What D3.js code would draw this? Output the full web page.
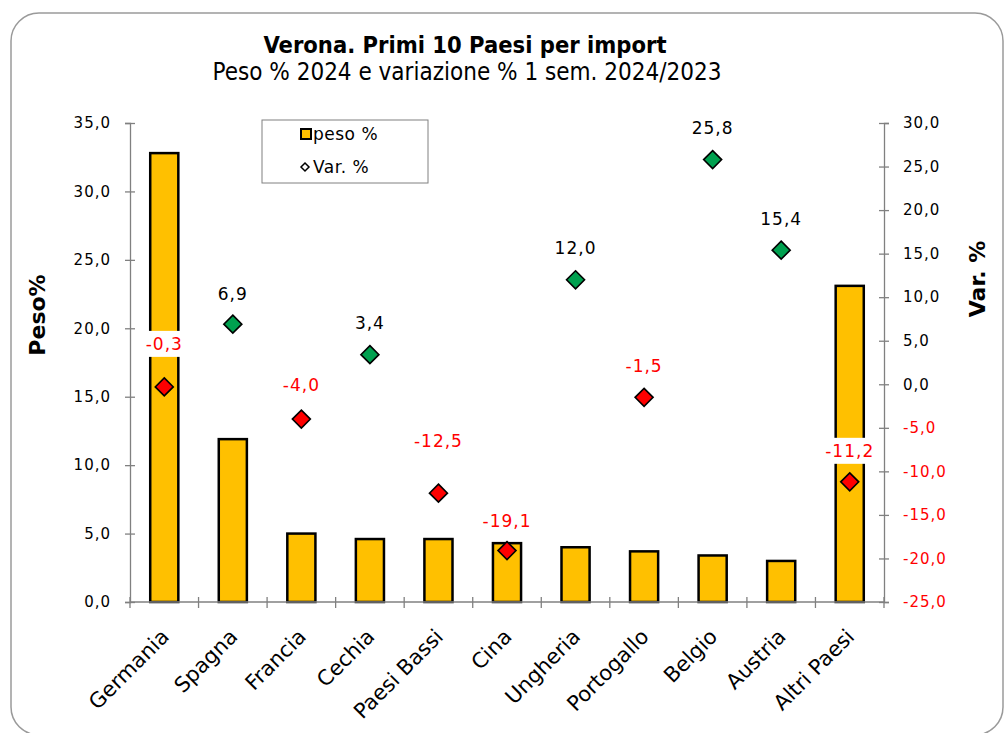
<!DOCTYPE html>
<html>
<head>
<meta charset="utf-8">
<script src="https://cdn.jsdelivr.net/npm/d3@7"></script>
<style>
  body { margin: 0; background: #fff; }
  text { font-family: "DejaVu Sans", Verdana, sans-serif; }
</style>
</head>
<body>
<div id="chart"></div>
<script>
// categories and values
var paesi = ["Germania", "Spagna", "Francia", "Cechia", "Paesi Bassi", "Cina",
             "Ungheria", "Portogallo", "Belgio", "Austria", "Altri Paesi"];
var peso = [32.8, 11.9, 5.0, 4.6, 4.6, 4.3, 4.0, 3.7, 3.4, 3.0, 23.1];
var variazione = [-0.3, 6.9, -4.0, 3.4, -12.5, -19.1, 12.0, -1.5, 25.8, 15.4, -11.2];
var ticksPeso = [0, 5, 10, 15, 20, 25, 30, 35];
var ticksVar = [-25, -20, -15, -10, -5, 0, 5, 10, 15, 20, 25, 30];

var width = 1007, height = 733;
var margin = {top: 123, right: 123, bottom: 131, left: 130};

var fmt = function(d) { return d.toFixed(1).replace(".", ","); };

var svg = d3.select("#chart").append("svg")
    .attr("width", width)
    .attr("height", height);

// outer frame
svg.append("rect")
    .attr("x", 11).attr("y", 13)
    .attr("width", 992).attr("height", 722)
    .attr("rx", 28).attr("ry", 28)
    .attr("fill", "#fff")
    .attr("stroke", "#9a9a9a")
    .attr("stroke-width", 1.5);

// titles
svg.append("text")
    .attr("x", 465).attr("y", 53)
    .attr("text-anchor", "middle")
    .style("font-family", "'DejaVu Sans Condensed', 'DejaVu Sans', sans-serif")
    .style("font-weight", "bold")
    .style("font-size", "23.5px")
    .text("Verona. Primi 10 Paesi per import");

svg.append("text")
    .attr("x", 467).attr("y", 80)
    .attr("text-anchor", "middle")
    .style("font-family", "'DejaVu Sans Condensed', 'DejaVu Sans', sans-serif")
    .style("font-size", "24px")
    .text("Peso % 2024 e variazione % 1 sem. 2024/2023");

// scales
var x = d3.scaleBand().domain(paesi).range([margin.left, width - margin.right]);
var yL = d3.scaleLinear().domain([0, 35]).range([height - margin.bottom, margin.top]);
var yR = d3.scaleLinear().domain([-25, 30]).range([height - margin.bottom, margin.top]);

// bars
var barW = x.bandwidth() * 0.41;
svg.append("g").selectAll("rect")
    .data(peso)
    .enter().append("rect")
    .attr("x", function(d, i) { return x(paesi[i]) + (x.bandwidth() - barW) / 2; })
    .attr("y", function(d) { return yL(d); })
    .attr("width", barW)
    .attr("height", function(d) { return yL(0) - yL(d); })
    .attr("fill", "#ffc000")
    .attr("stroke", "#000")
    .attr("stroke-width", 2.5);

// left axis
var axL = svg.append("g")
    .attr("transform", "translate(" + margin.left + ",0)")
    .call(d3.axisLeft(yL).tickValues(ticksPeso).tickFormat(fmt).tickSize(5).tickPadding(14));
// right axis
var axR = svg.append("g")
    .attr("transform", "translate(" + (width - margin.right) + ",0)")
    .call(d3.axisRight(yR).tickValues(ticksVar).tickFormat(fmt).tickSize(5).tickPadding(14));
// bottom axis (category separators)
var sep = paesi.map(function(p) { return x(p); }).concat([width - margin.right]);
var axB = svg.append("g");
axB.append("line")
    .attr("x1", margin.left).attr("x2", width - margin.right)
    .attr("y1", yL(0)).attr("y2", yL(0));
axB.selectAll("line.sep").data(sep).enter().append("line")
    .attr("class", "sep")
    .attr("x1", function(d) { return d; }).attr("x2", function(d) { return d; })
    .attr("y1", yL(0) - 5).attr("y2", yL(0) + 6);
axB.selectAll("line").attr("stroke", "#808080").attr("stroke-width", 1.3);

[axL, axR].forEach(function(ax) {
    ax.select(".domain").attr("stroke", "#808080").attr("stroke-width", 1.3);
    ax.selectAll(".tick line").attr("stroke", "#808080").attr("stroke-width", 1.3);
    ax.selectAll("text")
        .style("font-size", "15px")
        .style("letter-spacing", "1px")
        .attr("fill", "#000");
});
axL.selectAll(".tick line").attr("x1", 5);
axR.selectAll(".tick line").attr("x1", -5);
axR.selectAll(".tick text").attr("fill", function(d) { return d < 0 ? "#ff0000" : "#000"; });

// category labels
svg.append("g").selectAll("text")
    .data(paesi)
    .enter().append("text")
    .attr("transform", function(d) {
        return "translate(" + (x(d) + x.bandwidth() / 2 + 6) + "," + (yL(0) + 36) + ") rotate(-45)";
    })
    .attr("text-anchor", "end")
    .style("font-size", "21px")
    .text(function(d) { return d; });

// axis titles
svg.append("text")
    .attr("transform", "translate(45," + 315 + ") rotate(-90)")
    .attr("text-anchor", "middle")
    .style("font-weight", "bold")
    .style("font-size", "22px")
    .text("Peso%");

svg.append("text")
    .attr("transform", "translate(985," + 279 + ") rotate(-90)")
    .attr("text-anchor", "middle")
    .style("font-weight", "bold")
    .style("font-size", "22px")
    .text("Var. %");

// diamonds and their labels (label distance above each marker, px)
var labelDy = [43, 30, 34, 32, 52, 30, 32, 31, 32, 31, 31];

var pts = svg.append("g").selectAll("g")
    .data(variazione)
    .enter().append("g")
    .attr("transform", function(d, i) {
        return "translate(" + (x(paesi[i]) + x.bandwidth() / 2) + "," + yR(d) + ")";
    });

pts.each(function(d, i) {
    var g = d3.select(this);
    var lbl = g.append("text")
        .attr("y", -labelDy[i] + 6)
        .attr("text-anchor", "middle")
        .style("font-size", "17px")
        .style("letter-spacing", "1px")
        .attr("fill", d < 0 ? "#ff0000" : "#000")
        .text(fmt(d));
    var bb = lbl.node().getBBox();
    g.insert("rect", "text")
        .attr("x", bb.x - 3).attr("y", bb.y - 3)
        .attr("width", bb.width + 6).attr("height", bb.height + 6)
        .attr("fill", "#fff");
    g.append("path")
        .attr("d", "M0,-9L9,0L0,9L-9,0Z")
        .attr("fill", d < 0 ? "#ff0000" : "#00a04f")
        .attr("stroke", "#000")
        .attr("stroke-width", 1.6);
});

// legend
var leg = svg.append("g");
leg.append("rect")
    .attr("x", 262).attr("y", 120)
    .attr("width", 166).attr("height", 63)
    .attr("fill", "#fff")
    .attr("stroke", "#808080")
    .attr("stroke-width", 1);
leg.append("rect")
    .attr("x", 301).attr("y", 129)
    .attr("width", 10).attr("height", 10)
    .attr("fill", "#ffc000")
    .attr("stroke", "#000")
    .attr("stroke-width", 2);
leg.append("text")
    .attr("x", 313).attr("y", 140)
    .style("font-size", "17px")
    .style("letter-spacing", "0.5px")
    .text("peso %");
leg.append("path")
    .attr("d", "M305,163L309,167L305,171L301,167Z")
    .attr("fill", "#fff")
    .attr("stroke", "#000")
    .attr("stroke-width", 1.5);
leg.append("text")
    .attr("x", 313).attr("y", 173)
    .style("font-size", "17px")
    .style("letter-spacing", "0.5px")
    .text("Var. %");
</script>
</body>
</html>
